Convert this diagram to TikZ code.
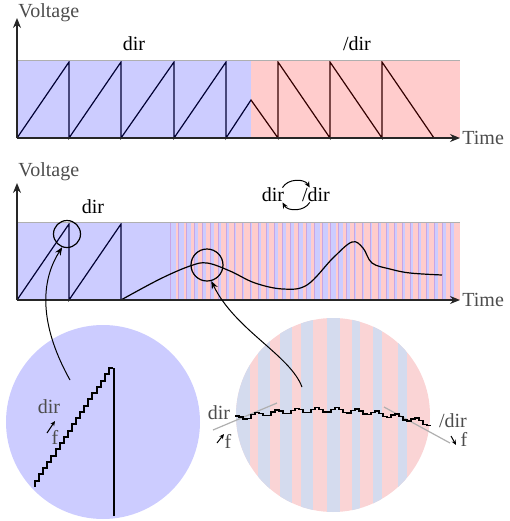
\documentclass[tikz,border=0pt]{standalone}
\usepackage{fontspec}
\setmainfont{Liberation Serif}
\usetikzlibrary{arrows.meta}
\definecolor{lupeblue}{RGB}{212,219,238}
\definecolor{lupered}{RGB}{250,212,213}
\definecolor{edge}{RGB}{175,175,175}
\definecolor{seam}{RGB}{200,165,228}
\tikzset{
  axis/.style={-{Stealth[length=5pt,width=4pt]},line width=.6pt,black!85},
  wave/.style={line width=.6pt,black},
  stair/.style={line width=1pt,black},
  ring/.style={circle,draw,line width=.6pt,inner sep=0pt,minimum size=#1},
  lupe/.style={circle,inner sep=0pt,minimum size=97pt},
  link/.style={-{Stealth[length=4pt,width=3.2pt]},line width=.5pt},
  swap/.style={-{Stealth[length=3pt,width=2.6pt]},line width=.5pt},
  lbl/.style={inner sep=1pt,text=black!70},
  tint/.style={fill=#1,fill opacity=.2},
}

\begin{document}
\begin{tikzpicture}[x=.5pt,y=-.5pt]
  \useasboundingbox (0,0) rectangle (510,521);

  % --- top: dir, then /dir ---
  \coordinate (o1) at (17,138);
  \coordinate (y1) at (17,18);
  \coordinate (x1) at (460,138);
  \draw[wave] (17,138) \foreach \x in {69,121,174,226} { -- (\x,62) -- (\x,138) }
    -- (251,100) -- (278,138) \foreach \x in {278,330,382} { -- (\x,62) -- ({\x+52},138) };
  \fill[tint=blue] (17,60) rectangle (251,138);
  \fill[tint=red] (251,60) rectangle (460,138);
  \draw[edge] (17,60) -- (460,60);
  \draw[axis] (o1) -- (y1);
  \draw[axis] (o1) -- (x1);
  \node[lbl,anchor=base west,inner sep=0pt] (volt1) at (18,17) {Voltage};
  \node[lbl,anchor=west] (time1) at (x1) {Time};
  \node (dir1) at (134,44) {dir};
  \node (ndir1) at (357,44) {/dir};

  % --- middle: switching dir <-> /dir ---
  \coordinate (o2) at (17,300);
  \coordinate (y2) at (17,183);
  \coordinate (x2) at (460,300);
  \draw[wave] (17,300) -- (69,224) -- (69,300) -- (121,224) -- (121,300);
  \fill[tint=blue] (17,222) rectangle (170,300);
  \foreach \d [count=\i from 0] in {.7,.7,.65,.55,.5,.45,.4,.35,.3,.3,.3,.35,.4,.45,.5,.55,
      .6,.65,.7,.7,.7,.65,.55,.25,.2,.3,.35,.35,.4,.4,.4,.4,.4,.45,.45,.45} {
    \fill[tint=blue] ({170+8*\i},222) rectangle ++({8*\d},78);
    \fill[tint=red] ({170+8*\i+8*\d},222) rectangle ({170+8*(\i+1)},300);
    \draw[seam,line width=.15pt] ({170+8*\i},222) -- ++(0,78);
  }
  \fill[tint=red] (458,222) rectangle (460,300);
  \draw[wave] plot[smooth,tension=.6] coordinates {(121,300) (160,279) (190,266) (207,263)
      (230,271) (255,283) (283,289) (307,285) (333,258) (352,242) (363,248) (372,263)
      (390,269) (410,273) (442,275)};
  \draw[edge] (17,222) -- (460,222);
  \draw[axis] (o2) -- (y2);
  \draw[axis] (o2) -- (x2);
  \node[lbl,anchor=base west,inner sep=0pt] (volt2) at (18,176) {Voltage};
  \node[lbl,anchor=west] (time2) at (x2) {Time};
  \node (dir2) at (93,207) {dir};
  \node[inner sep=1pt] (swA) at (273,195) {dir};
  \node[inner sep=1pt] (swB) at (316,195) {/dir};
  \draw[swap] ([xshift=-2pt,yshift=-1pt]swA.north east) to[bend left=60] ([xshift=5pt,yshift=-1pt]swB.north west);
  \draw[swap] ([xshift=5pt,yshift=1pt]swB.south west) to[bend left=60] ([xshift=-2pt,yshift=1pt]swA.south east);
  \node[ring=13.5pt] (ringA) at (67,234) {};
  \node[ring=16pt] (ringB) at (207,265) {};

  % --- zoom A: steps of the ramp ---
  \node[lupe,fill=blue!20] (lupeA) at (103,422) {};
  \draw[stair] (35,487) \foreach \i in {1,...,19} { -- ++(0,-6.26) -- ++(4.1,0) };
  \draw[stair] (114,368) -- (114,516);
  \node[lbl] (dirA) at (49,407) {dir};
  \node[lbl] (fA) at (55,437) {f};
  \draw[-{Stealth[length=2.5pt,width=2.2pt]},line width=.5pt] (47,433) -- (55,421);

  % --- zoom B: ripple while switching ---
  \begin{scope}
    \clip (333,415) circle [radius=97];
    \fill[lupered] (230,310) rectangle (440,520);
    \foreach \a/\b in {230/250,258/270,280/292,301/313,327/340,352/360,373/382,398/407}
      \fill[lupeblue] (\a,310) rectangle (\b,520);
  \end{scope}
  \draw[edge,line width=.6pt] (213,430) -- (277,403);
  \draw[edge,line width=.6pt] (384,407) -- (450,443);
  \draw[stair,line width=.7pt] (235,{410+0.00116*(235-320)^2+2.5*sin(18*235)})
    \foreach \i [evaluate=\i as \xx using 235+4*\i,
                 evaluate=\i as \yy using 410+0.00116*(235+4*\i-320)^2+2.5*sin(18*(235+4*\i))]
      in {0,...,48} { -- (\xx,\yy) -- ({\xx+4},\yy) };
  \node[lbl] (dirB) at (219,413) {dir};
  \node[lbl] (fB) at (228,441) {f};
  \draw[-{Stealth[length=2.5pt,width=2.2pt]},line width=.5pt] (217,443) -- (224,434);
  \node[lbl] (ndirB) at (453,421) {/dir};
  \node[lbl] (nfB) at (464,439) {f};
  \draw[-{Stealth[length=2.5pt,width=2.2pt]},line width=.5pt] (451,436) -- (456,445);

  % --- links from the zooms to the rings ---
  \coordinate (tailA) at (70,380);
  \coordinate (tailB) at (302,387);
  \draw[link] (tailA) .. controls (42,330) and (38,285) .. (ringA.250);
  \draw[link] (tailB) .. controls (290,355) and (235,330) .. (ringB.285);
\end{tikzpicture}
\end{document}
